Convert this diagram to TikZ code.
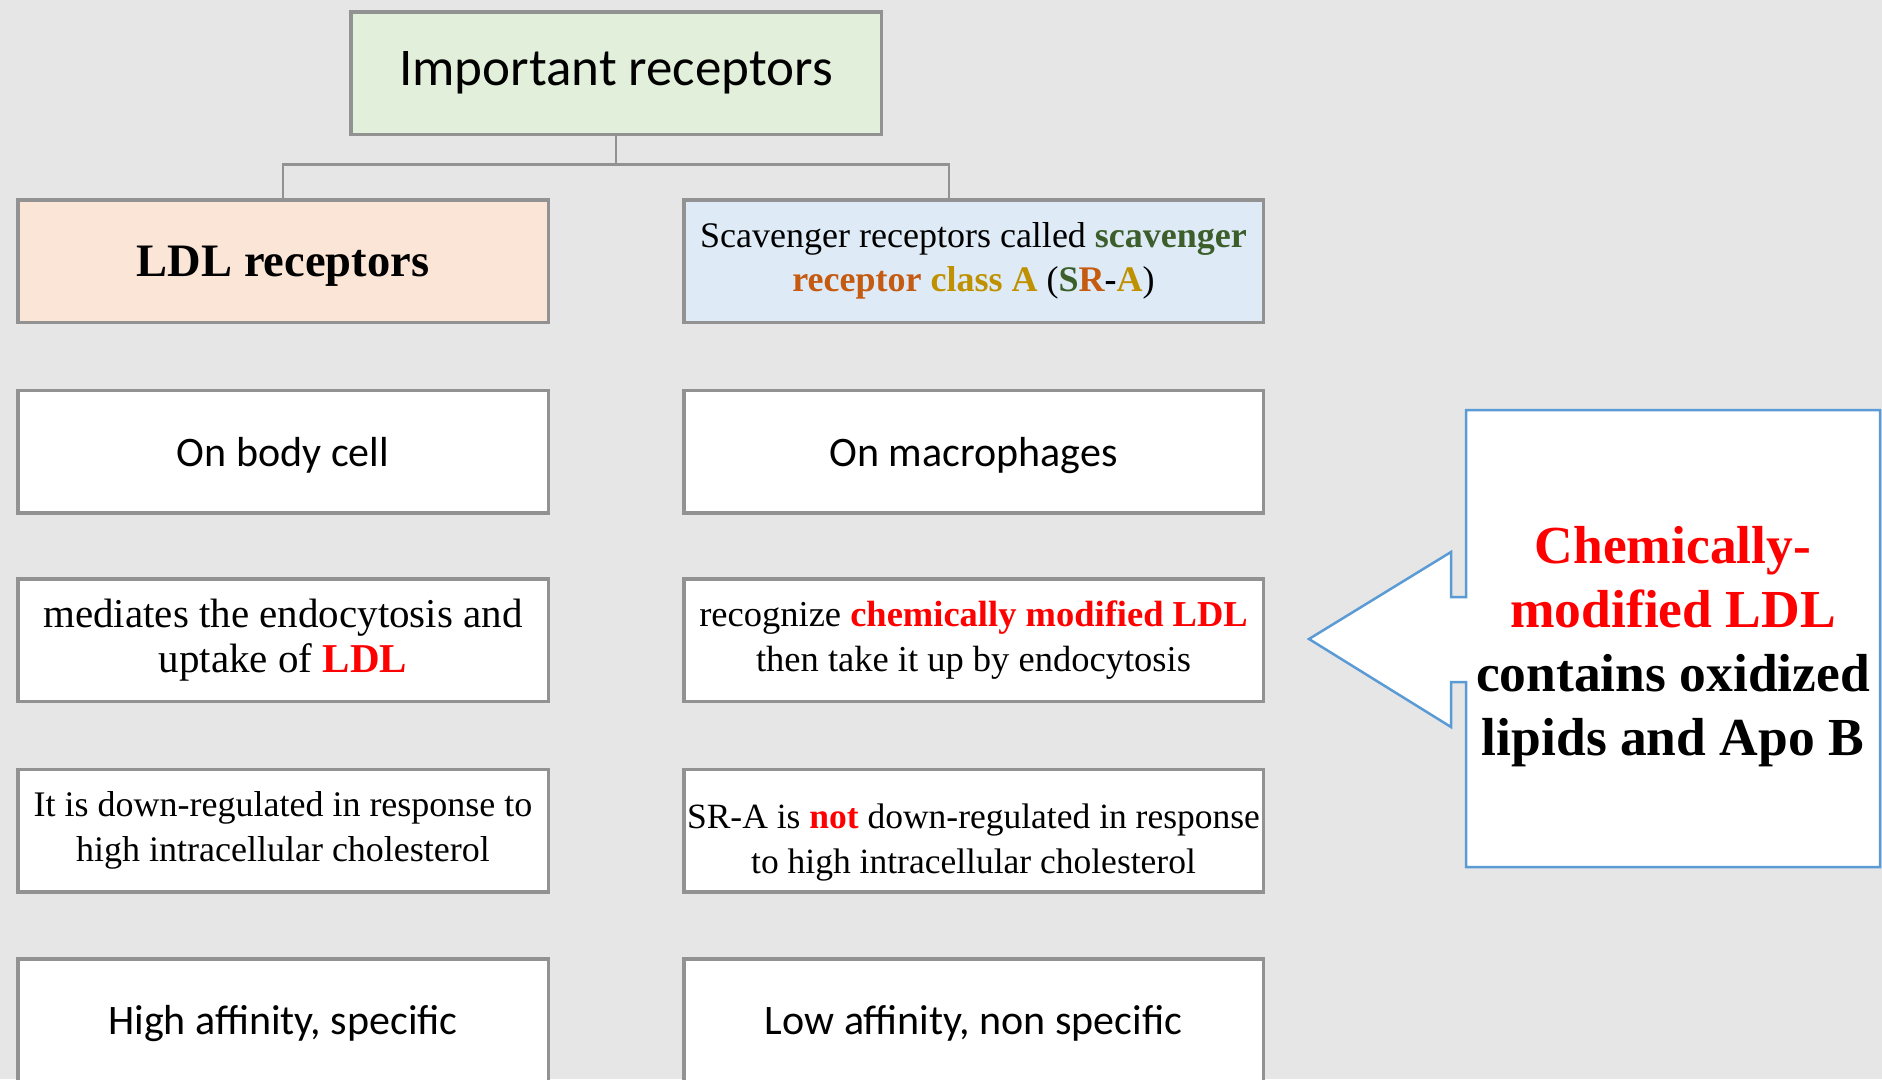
\documentclass[tikz,border=0pt]{standalone}
\usepackage{fontspec}
\setmainfont{Liberation Serif}
\newfontfamily\calfont{Carlito}
\definecolor{bgc}{HTML}{E6E6E6}
\definecolor{bordc}{HTML}{929292}
\definecolor{greenfill}{HTML}{E2EFDA}
\definecolor{peachfill}{HTML}{FBE5D6}
\definecolor{bluefill}{HTML}{DEEBF7}
\definecolor{callblue}{HTML}{5B9BD5}
\definecolor{dkgreen}{HTML}{3B5E2A}
\definecolor{orng}{HTML}{C55A11}
\definecolor{gold}{HTML}{BF9000}
\definecolor{redc}{HTML}{FF0000}
\begin{document}
\begin{tikzpicture}[x=1pt,y=-1pt,
  box/.style={draw=bordc, line width=3.5pt, rectangle, inner sep=0pt, outer sep=0pt, align=center, fill=white},
  lbox/.style={box, minimum width=530.5pt, minimum height=122.5pt},
  rbox/.style={box, minimum width=579.5pt, minimum height=122.5pt},
  conn/.style={draw=bordc, line width=2.8pt},
  callout/.style={draw=callblue, line width=2.5pt, fill=white, line join=miter},
  calt/.style={font=\calfont\fontsize{42}{50}\selectfont, text depth=0pt},
]
\useasboundingbox[fill=bgc] (0,0) rectangle (1882,1079);

% top
\node[box, fill=greenfill, minimum width=530.5pt, minimum height=122.5pt, font=\calfont\fontsize{53}{60}\selectfont] (top) at (616,73) {Important receptors};

% headers
\node[lbox, fill=peachfill, text depth=0pt, font=\bfseries\fontsize{46.5}{52}\selectfont] (ldl) at (283,261) {LDL receptors};
\node[rbox, fill=bluefill, font=\fontsize{36}{44.4}\selectfont] (sr) at (973.5,261)
  {Scavenger receptors called \textbf{\textcolor{dkgreen}{scavenger}}\\
   \textbf{\textcolor{orng}{receptor} \textcolor{gold}{class A}} (\textbf{\textcolor{dkgreen}{S}\textcolor{orng}{R}-\textcolor{gold}{A}})};

% row 2
\node[lbox, calt] (l2) at (283,451.5) {On body cell};
\node[rbox, calt] (r2) at (973.5,451.5) {On macrophages};

% row 3
\node[lbox, font=\fontsize{41}{45.6}\selectfont] (l3) at (283,640) {mediates the endocytosis and\\uptake of \textbf{\textcolor{redc}{LDL}}};
\node[rbox, font=\fontsize{36.5}{44.4}\selectfont] (r3) at (973.5,640) {recognize \textbf{\textcolor{redc}{chemically modified LDL}}\\then take it up by endocytosis};

% row 4
\node[lbox, font=\fontsize{36}{44.4}\selectfont] (l4) at (283,830.5) {It is down-regulated in response to\\high intracellular cholesterol};
\node[rbox] (r4) at (973.5,830.5) {};
\node[align=center, inner sep=0pt, font=\fontsize{35.5}{44.4}\selectfont] (r4t) at ([yshift=-12pt]r4.center) {SR-A is \textbf{\textcolor{redc}{not}} down-regulated in response\\to high intracellular cholesterol};

% row 5
\node[lbox, calt] (l5) at (283,1020) {High affinity, specific};
\node[rbox, calt] (r5) at (973.5,1020) {Low affinity, non specific};

% connectors
\coordinate (jr) at (949,198);
\draw[conn] (top.south) -- ++(0,30) coordinate (mid);
\draw[conn] (mid) -| (ldl.north);
\draw[conn] (mid) -| (jr);

% callout
\draw[callout] (1466,410) -- (1880,410) -- (1880,867) -- (1466,867) -- (1466,682) -- (1451,682) -- (1451,727) -- (1309,639) -- (1451,552) -- (1451,597) -- (1466,597) -- cycle;
\node[align=center, font=\bfseries\fontsize{53.5}{64}\selectfont, inner sep=0pt] (calltext) at (1673,647)
  {\textcolor{redc}{Chemically-}\\\textcolor{redc}{modified LDL}\\contains oxidized\\lipids and Apo B};
\end{tikzpicture}
\end{document}
